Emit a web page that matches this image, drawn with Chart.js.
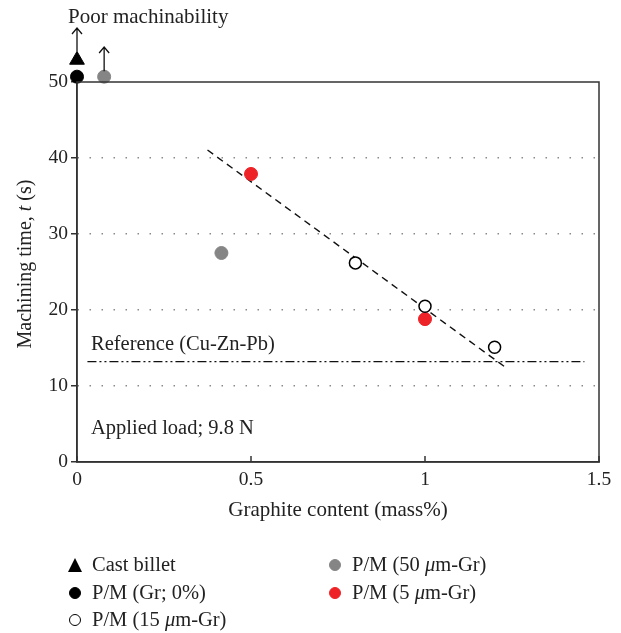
<!DOCTYPE html>
<html>
<head>
<meta charset="utf-8">
<script src="https://cdn.jsdelivr.net/npm/chart.js@4.4.1/dist/chart.umd.min.js"></script>
<style>
  body { margin: 0; background: #fff; }
  #wrap { position: relative; width: 621px; height: 633px; font-family: "Liberation Serif", serif; color: #222; }
  #chart { position: absolute; left: 0; top: 0; }
  #legend { position: absolute; left: 0; top: 0; width: 621px; height: 633px; pointer-events: none; }
  .item { position: absolute; font-size: 20.5px; line-height: 22px; white-space: nowrap; }
  .mark { position: absolute; box-sizing: border-box; }
</style>
</head>
<body>
<div id="wrap">
  <canvas id="chart" width="621" height="540"></canvas>
  <div id="legend"></div>
</div>
<script>
// Values
const castX = [0];
const castY = [52.9];
const gr0X = [0];
const gr0Y = [50.7];
const gr15X = [0.8, 1.0, 1.2];
const gr15Y = [26.2, 20.5, 15.1];
const gr50X = [0.078, 0.415];
const gr50Y = [50.7, 27.5];
const gr5X = [0.5, 1.0];
const gr5Y = [37.9, 18.8];

// trend line and reference level
const fitX = [0.375, 1.233];
const fitY = [41.05, 12.4];
const refX = [0.03, 1.458];
const refY = [13.2, 13.2];

// "poor machinability" arrows (x, from, to)
const arrowX = [0, 0.078];
const arrowFrom = [54.0, 51.4];
const arrowTo = [57.1, 54.6];

const xTicks = [0, 0.5, 1, 1.5];
const yTicks = [0, 10, 20, 30, 40, 50];

const FONT = '"Liberation Serif", serif';
const INK = '#222';

const pts = (xs, ys) => xs.map((x, i) => ({ x: x, y: ys[i] }));

// points above y = 50 sit outside the plot box, so let them be drawn there
let savedArea = null;
const overlay = {
  id: 'overlay',
  beforeDatasetsDraw(chart) {
    savedArea = chart.chartArea;
    chart.chartArea = Object.assign({}, savedArea, { top: 0 });
  },
  afterDatasetsDraw(chart) {
    if (savedArea) chart.chartArea = savedArea;
    const { ctx, chartArea: a, scales: { x, y } } = chart;
    ctx.save();
    // frame
    ctx.strokeStyle = '#333';
    ctx.lineWidth = 1.5;
    ctx.strokeRect(a.left, a.top, a.right - a.left, a.bottom - a.top);
    // inward x ticks
    xTicks.forEach(v => {
      const px = x.getPixelForValue(v);
      ctx.beginPath();
      ctx.moveTo(px, a.bottom);
      ctx.lineTo(px, a.bottom - 6);
      ctx.stroke();
    });
    // arrows
    ctx.strokeStyle = '#111';
    ctx.lineWidth = 1.3;
    arrowX.forEach((v, i) => {
      const px = x.getPixelForValue(v);
      const y0 = y.getPixelForValue(arrowFrom[i]);
      const y1 = y.getPixelForValue(arrowTo[i]);
      ctx.beginPath();
      ctx.moveTo(px, y0);
      ctx.lineTo(px, y1);
      ctx.moveTo(px - 5, y1 + 6);
      ctx.lineTo(px, y1);
      ctx.lineTo(px + 5, y1 + 6);
      ctx.stroke();
    });
    ctx.restore();
  },
  afterDraw(chart) {
    const { ctx, chartArea: a } = chart;
    ctx.save();
    ctx.fillStyle = INK;
    ctx.textBaseline = 'middle';
    ctx.textAlign = 'left';
    ctx.font = '21px ' + FONT;
    ctx.fillText('Poor machinability', 68, 17);
    ctx.font = '20.5px ' + FONT;
    ctx.fillText('Reference (Cu-Zn-Pb)', 91, 345);
    ctx.fillText('Applied load; 9.8 N', 91, 429);

    // x title
    ctx.font = '21px ' + FONT;
    ctx.textAlign = 'center';
    ctx.fillText('Graphite content (mass%)', (a.left + a.right) / 2, 510);

    // y title with italic t
    const parts = [['Machining time, ', false], ['t', true], [' (s)', false]];
    const f = it => (it ? 'italic ' : '') + '20px ' + FONT;
    let total = 0;
    parts.forEach(p => {
      ctx.font = f(p[1]);
      total += ctx.measureText(p[0]).width;
    });
    ctx.translate(26, 264);
    ctx.rotate(-Math.PI / 2);
    ctx.textAlign = 'left';
    let cx = -total / 2;
    parts.forEach(p => {
      ctx.font = f(p[1]);
      ctx.fillText(p[0], cx, 0);
      cx += ctx.measureText(p[0]).width;
    });
    ctx.restore();
  }
};

const chart = new Chart(document.getElementById('chart'), {
  type: 'scatter',
  data: {
    datasets: [
      { label: 'Cast billet', data: pts(castX, castY), pointStyle: 'triangle', pointRadius: 8.5,
        backgroundColor: '#000', borderColor: '#000', borderWidth: 1, clip: false },
      { label: 'P/M (Gr; 0%)', data: pts(gr0X, gr0Y), pointRadius: 6.5,
        backgroundColor: '#000', borderColor: '#000', borderWidth: 1, clip: false },
      { label: 'P/M (15 μm-Gr)', data: pts(gr15X, gr15Y), pointRadius: 6,
        backgroundColor: '#fff', borderColor: '#000', borderWidth: 1.5, clip: false },
      { label: 'P/M (50 μm-Gr)', data: pts(gr50X, gr50Y), pointRadius: 6.5,
        backgroundColor: '#858585', borderColor: '#858585', borderWidth: 1, clip: false },
      { label: 'P/M (5 μm-Gr)', data: pts(gr5X, gr5Y), pointRadius: 6.5,
        backgroundColor: '#ee2327', borderColor: '#ee2327', borderWidth: 1, clip: false },
      { label: 'fit', type: 'line', data: pts(fitX, fitY), showLine: true, pointRadius: 0,
        borderColor: '#111', borderWidth: 1.4, borderDash: [7, 5], order: 1, clip: false },
      { label: 'reference', type: 'line', data: pts(refX, refY), showLine: true, pointRadius: 0,
        borderColor: '#111', borderWidth: 1.3, borderDash: [9, 3, 2, 3, 2, 3], order: 1, clip: false }
    ]
  },
  options: {
    responsive: false,
    animation: false,
    events: [],
    layout: { padding: { left: 0, top: 82, right: 22, bottom: 38 } },
    plugins: { legend: { display: false }, tooltip: { enabled: false } },
    scales: {
      x: {
        type: 'linear', min: 0, max: 1.5,
        afterBuildTicks: s => { s.ticks = xTicks.map(v => ({ value: v })); },
        afterFit: s => { s.height = 40; },
        ticks: { padding: 6, color: INK, font: { family: FONT, size: 19.5 }, callback: v => String(v) },
        grid: { drawOnChartArea: false, drawTicks: false },
        border: { color: '#333', width: 1.5 }
      },
      y: {
        type: 'linear', min: 0, max: 50,
        afterBuildTicks: s => { s.ticks = yTicks.map(v => ({ value: v })); },
        afterFit: s => { s.width = 77; },
        ticks: { padding: 3, color: INK, font: { family: FONT, size: 19.5 } },
        grid: {
          color: c => (c.tick && c.tick.value > 0 && c.tick.value < 50) ? '#8a8a8a' : 'rgba(0,0,0,0)',
          lineWidth: 1.5, tickColor: '#333', tickLength: 6, tickWidth: 1.5
        },
        border: { color: '#333', width: 1.5, dash: [1.5, 10.5] }
      }
    }
  },
  plugins: [overlay]
});

// HTML legend built from the point datasets
const legendPos = [[75, 565], [75, 593], [75, 620], [335, 565], [335, 593]];
const legend = document.getElementById('legend');
chart.data.datasets.slice(0, 5).forEach((ds, i) => {
  const [mx, my] = legendPos[i];
  const m = document.createElement('div');
  m.className = 'mark';
  if (ds.pointStyle === 'triangle') {
    m.style.left = (mx - 7) + 'px';
    m.style.top = (my - 7) + 'px';
    m.style.width = '0'; m.style.height = '0';
    m.style.borderLeft = '7px solid transparent';
    m.style.borderRight = '7px solid transparent';
    m.style.borderBottom = '14px solid #000';
  } else {
    m.style.left = (mx - 6) + 'px';
    m.style.top = (my - 6) + 'px';
    m.style.width = '12px'; m.style.height = '12px';
    m.style.borderRadius = '50%';
    m.style.background = ds.backgroundColor;
    m.style.border = '1.5px solid ' + ds.borderColor;
  }
  legend.appendChild(m);
  const t = document.createElement('div');
  t.className = 'item';
  t.style.left = (mx + 17) + 'px';
  t.style.top = (my - 12) + 'px';
  t.innerHTML = ds.label.replace('μ', '<i>μ</i>');
  legend.appendChild(t);
});
</script>
</body>
</html>
